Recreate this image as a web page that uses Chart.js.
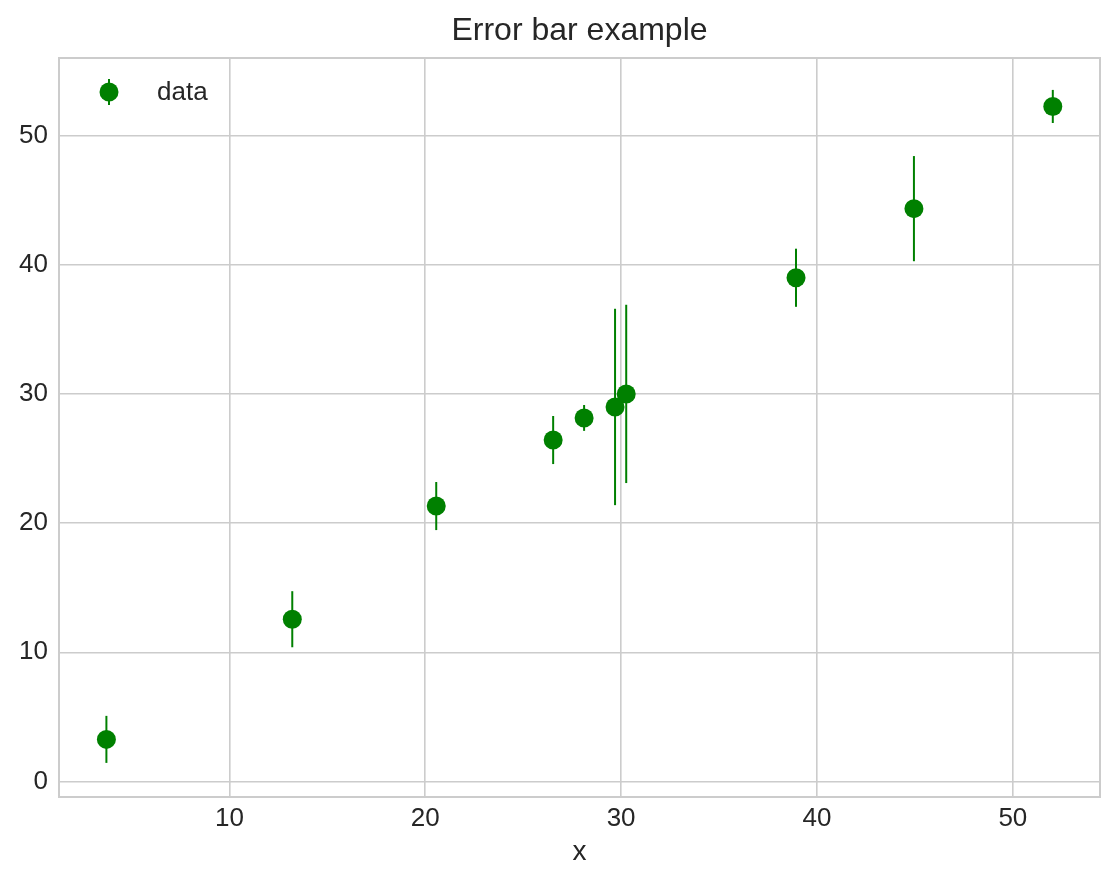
<!DOCTYPE html>
<html>
<head>
<meta charset="utf-8">
<script src="https://cdn.jsdelivr.net/npm/chart.js@4"></script>
<style>
  html, body { margin: 0; padding: 0; background: #ffffff; }
  #wrap { width: 1119px; height: 886px; }
</style>
</head>
<body>
<div id="wrap"><canvas id="c" width="1119" height="886"></canvas></div>
<script>
const xValues = [3.72, 13.21, 20.56, 26.53, 28.11, 29.69, 30.26, 38.93, 44.95, 52.04];
const yValues = [3.26, 12.56, 21.32, 26.43, 28.14, 28.99, 30.00, 38.99, 44.34, 52.25];
const yErrors = [1.82, 2.17, 1.86, 1.86, 1.00, 7.60, 6.90, 2.25, 4.07, 1.28];
const xTicks = [10, 20, 30, 40, 50];
const yTicks = [0, 10, 20, 30, 40, 50];
const seriesLabel = 'data';
const titleText = 'Error bar example';
const xLabel = 'x';

const GREEN = '#008000';
const TEXT = '#262626';
const GRID = '#cccccc';
const FONT = "'Liberation Sans', Arial, sans-serif";

const points = xValues.map((x, i) => ({ x: x, y: yValues[i] }));

const errorBarPlugin = {
  id: 'errorBars',
  beforeDatasetsDraw(chart) {
    const ctx = chart.ctx;
    const xs = chart.scales.x, ys = chart.scales.y;
    ctx.save();
    ctx.strokeStyle = GREEN;
    ctx.lineWidth = 2;
    for (let i = 0; i < xValues.length; i++) {
      const px = xs.getPixelForValue(xValues[i]);
      const top = ys.getPixelForValue(yValues[i] + yErrors[i]);
      const bot = ys.getPixelForValue(yValues[i] - yErrors[i]);
      ctx.beginPath();
      ctx.moveTo(px, top);
      ctx.lineTo(px, bot);
      ctx.stroke();
    }
    ctx.restore();
  },
  afterDraw(chart) {
    const ctx = chart.ctx;
    const a = chart.chartArea;
    ctx.save();
    // frame
    ctx.strokeStyle = GRID;
    ctx.lineWidth = 2;
    ctx.strokeRect(a.left, a.top, a.right - a.left, a.bottom - a.top);
    // title, centred over the plot area
    ctx.fillStyle = TEXT;
    ctx.font = "32px " + FONT;
    ctx.textAlign = 'center';
    ctx.textBaseline = 'middle';
    ctx.fillText(titleText, (a.left + a.right) / 2, 31);
    // legend
    const lx = a.left + 50, ly = a.top + 34;
    ctx.strokeStyle = GREEN;
    ctx.lineWidth = 2;
    ctx.beginPath();
    ctx.moveTo(lx, ly - 13);
    ctx.lineTo(lx, ly + 13);
    ctx.stroke();
    ctx.fillStyle = GREEN;
    ctx.beginPath();
    ctx.arc(lx, ly, 9.5, 0, Math.PI * 2);
    ctx.fill();
    ctx.fillStyle = TEXT;
    ctx.font = "26px " + FONT;
    ctx.textBaseline = 'middle';
    ctx.textAlign = 'left';
    ctx.fillText(seriesLabel, lx + 48, ly + 1);
    ctx.restore();
  }
};

new Chart(document.getElementById('c'), {
  type: 'scatter',
  data: {
    datasets: [{
      label: seriesLabel,
      data: points,
      backgroundColor: GREEN,
      borderColor: GREEN,
      borderWidth: 0,
      pointRadius: 9.5,
      pointHoverRadius: 9.5,
      showLine: false
    }]
  },
  options: {
    responsive: false,
    animation: false,
    devicePixelRatio: 1,
    layout: { padding: { left: 0, right: 19, top: 58, bottom: 0 } },
    plugins: {
      legend: { display: false },
      tooltip: { enabled: false },
      title: { display: false }
    },
    scales: {
      x: {
        type: 'linear',
        min: 1.3,
        max: 54.45,
        afterFit(scale) { scale.height = 89; },
        afterBuildTicks(scale) { scale.ticks = xTicks.map(v => ({ value: v })); },
        grid: { color: GRID, lineWidth: 1.6, drawTicks: false },
        border: { display: false },
        ticks: {
          color: TEXT,
          padding: 6,
          maxRotation: 0,
          font: { family: FONT, size: 26 },
          callback: v => String(v)
        },
        title: {
          display: true,
          text: xLabel,
          color: TEXT,
          font: { family: FONT, size: 28 },
          padding: { top: 0, bottom: 17 }
        }
      },
      y: {
        type: 'linear',
        min: -1.2,
        max: 56.0,
        afterFit(scale) { scale.width = 59; },
        afterBuildTicks(scale) { scale.ticks = yTicks.map(v => ({ value: v })); },
        grid: { color: GRID, lineWidth: 1.6, drawTicks: false },
        border: { display: false },
        ticks: {
          color: TEXT,
          padding: 11,
          font: { family: FONT, size: 26 },
          callback: v => String(v)
        }
      }
    }
  },
  plugins: [errorBarPlugin]
});
</script>
</body>
</html>
